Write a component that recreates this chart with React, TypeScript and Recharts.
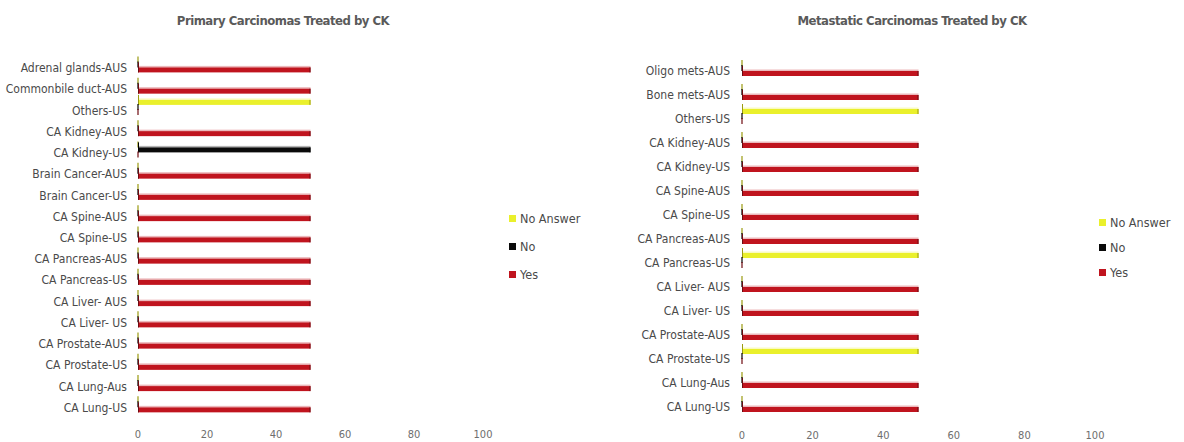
import { BarChart, Bar, XAxis, YAxis } from "recharts";

const primaryCategories = [
  "Adrenal glands-AUS",
  "Commonbile duct-AUS",
  "Others-US",
  "CA Kidney-AUS",
  "CA Kidney-US",
  "Brain Cancer-AUS",
  "Brain Cancer-US",
  "CA Spine-AUS",
  "CA Spine-US",
  "CA Pancreas-AUS",
  "CA Pancreas-US",
  "CA Liver- AUS",
  "CA Liver- US",
  "CA Prostate-AUS",
  "CA Prostate-US",
  "CA Lung-Aus",
  "CA Lung-US",
];
const primaryYes = [50, 50, 0, 50, 0, 50, 50, 50, 50, 50, 50, 50, 50, 50, 50, 50, 50];
const primaryNo = [0, 0, 0, 0, 50, 0, 0, 0, 0, 0, 0, 0, 0, 0, 0, 0, 0];
const primaryNoAnswer = [0, 0, 50, 0, 0, 0, 0, 0, 0, 0, 0, 0, 0, 0, 0, 0, 0];

const metaCategories = [
  "Oligo mets-AUS",
  "Bone mets-AUS",
  "Others-US",
  "CA Kidney-AUS",
  "CA Kidney-US",
  "CA Spine-AUS",
  "CA Spine-US",
  "CA Pancreas-AUS",
  "CA Pancreas-US",
  "CA Liver- AUS",
  "CA Liver- US",
  "CA Prostate-AUS",
  "CA Prostate-US",
  "CA Lung-Aus",
  "CA Lung-US",
];
const metaYes = [50, 50, 0, 50, 50, 50, 50, 50, 0, 50, 50, 50, 0, 50, 50];
const metaNo = [0, 0, 0, 0, 0, 0, 0, 0, 0, 0, 0, 0, 0, 0, 0];
const metaNoAnswer = [0, 0, 50, 0, 0, 0, 0, 0, 50, 0, 0, 0, 50, 0, 0];

const xTicks = [0, 20, 40, 60, 80, 100];

const FONT = "'Liberation Sans Narrow', 'DejaVu Sans Condensed', 'Roboto', sans-serif";

const SERIES = [
  { key: "noAnswer", label: "No Answer", fill: "#eaf02c", edge: "#9a9a10" },
  { key: "no", label: "No", fill: "#0a0a0a", edge: "#000000" },
  { key: "yes", label: "Yes", fill: "#c0141e", edge: "#6e0a10" },
];

function buildRows(cats: string[], yes: number[], no: number[], na: number[]) {
  return cats.map((name, i) => ({ name, yes: yes[i], no: no[i], noAnswer: na[i] }));
}

function BevelBar(props: any) {
  const { x, y, width, height, fill, edge } = props;
  if (!width || width <= 0) {
    return <line x1={x} y1={y - 1} x2={x} y2={y + height} stroke={edge} strokeWidth={1.2} />;
  }
  return (
    <g>
      <rect x={x} y={y - 1.5} width={width} height={1.5} fill={fill} opacity={0.3} />
      <rect x={x} y={y} width={width} height={height} fill={fill} />
      <line x1={x + 0.5} y1={y - 5} x2={x + 0.5} y2={y + height} stroke={edge} strokeWidth={1} />
      <line x1={x + width - 0.5} y1={y} x2={x + width - 0.5} y2={y + height} stroke={edge} strokeWidth={1} />
    </g>
  );
}

function CatTick(props: any) {
  const { x, y, payload } = props;
  return (
    <text
      x={x}
      y={y + 3}
      textAnchor="end"
      dominantBaseline="central"
      fontFamily={FONT}
      fontSize={12}
      fill="#4a4a4a"
    >
      {payload.value}
    </text>
  );
}

function Panel({
  left,
  title,
  titleX,
  rows,
  yWidth,
  labelGap,
  top,
  bottom,
  rightMargin,
  legendX,
  legendY,
  legendStep,
}: any) {
  return (
    <div style={{ position: "absolute", left, top: 0, width: 592, height: 442 }}>
      <div
        style={{
          position: "absolute",
          left: titleX - 150,
          width: 300,
          top: 13,
          textAlign: "center",
          fontFamily: FONT,
          fontWeight: "bold",
          fontSize: 13,
          letterSpacing: -0.5,
          color: "#5a5a5a",
        }}
      >
        {title}
      </div>
      <BarChart
        width={592}
        height={442}
        data={rows}
        layout="vertical"
        barSize={5}
        barGap={0}
        margin={{ top, right: rightMargin, bottom: 0, left: 0 }}
      >
        <XAxis
          type="number"
          domain={[0, 100]}
          ticks={xTicks}
          axisLine={false}
          tickLine={false}
          tickSize={0}
          tickMargin={15}
          height={442 - bottom}
          tick={{ fontFamily: FONT, fontSize: 11, fill: "#6e6e6e" }}
        />
        <YAxis
          type="category"
          dataKey="name"
          width={yWidth}
          axisLine={false}
          tickLine={false}
          tickSize={0}
          tickMargin={labelGap}
          interval={0}
          tick={<CatTick />}
        />
        {SERIES.map((s) => (
          <Bar
            key={s.key}
            dataKey={s.key}
            name={s.label}
            fill={s.fill}
            isAnimationActive={false}
            shape={(p: any) => <BevelBar {...p} fill={s.fill} edge={s.edge} />}
          />
        ))}
      </BarChart>
      {SERIES.map((s, i) => (
        <div
          key={s.key}
          style={{
            position: "absolute",
            left: legendX,
            top: legendY + i * legendStep - 8,
            height: 16,
            display: "flex",
            alignItems: "center",
            fontFamily: FONT,
            fontSize: 12.5,
            color: "#4a4a4a",
            whiteSpace: "nowrap",
          }}
        >
          <span
            style={{
              display: "inline-block",
              width: 7,
              height: 7,
              background: s.fill,
              marginRight: 4,
            }}
          />
          {s.label}
        </div>
      ))}
    </div>
  );
}

export default function App() {
  const primaryRows = buildRows(primaryCategories, primaryYes, primaryNo, primaryNoAnswer);
  const metaRows = buildRows(metaCategories, metaYes, metaNo, metaNoAnswer);
  return (
    <div
      style={{
        position: "absolute",
        left: 0,
        top: 0,
        width: 1184,
        height: 442,
        background: "#ffffff",
        overflow: "hidden",
      }}
    >
      <Panel
        left={0}
        title="Primary Carcinomas Treated by CK"
        titleX={283}
        rows={primaryRows}
        yWidth={138}
        labelGap={11}
        top={54.4}
        bottom={415.6}
        rightMargin={592 - 483}
        legendX={509}
        legendY={218}
        legendStep={28}
      />
      <Panel
        left={592}
        title="Metastatic Carcinomas Treated by CK"
        titleX={912 - 592}
        rows={metaRows}
        yWidth={150}
        labelGap={12}
        top={56}
        bottom={416}
        rightMargin={592 - 503}
        legendX={1099 - 592}
        legendY={222}
        legendStep={25}
      />
    </div>
  );
}
